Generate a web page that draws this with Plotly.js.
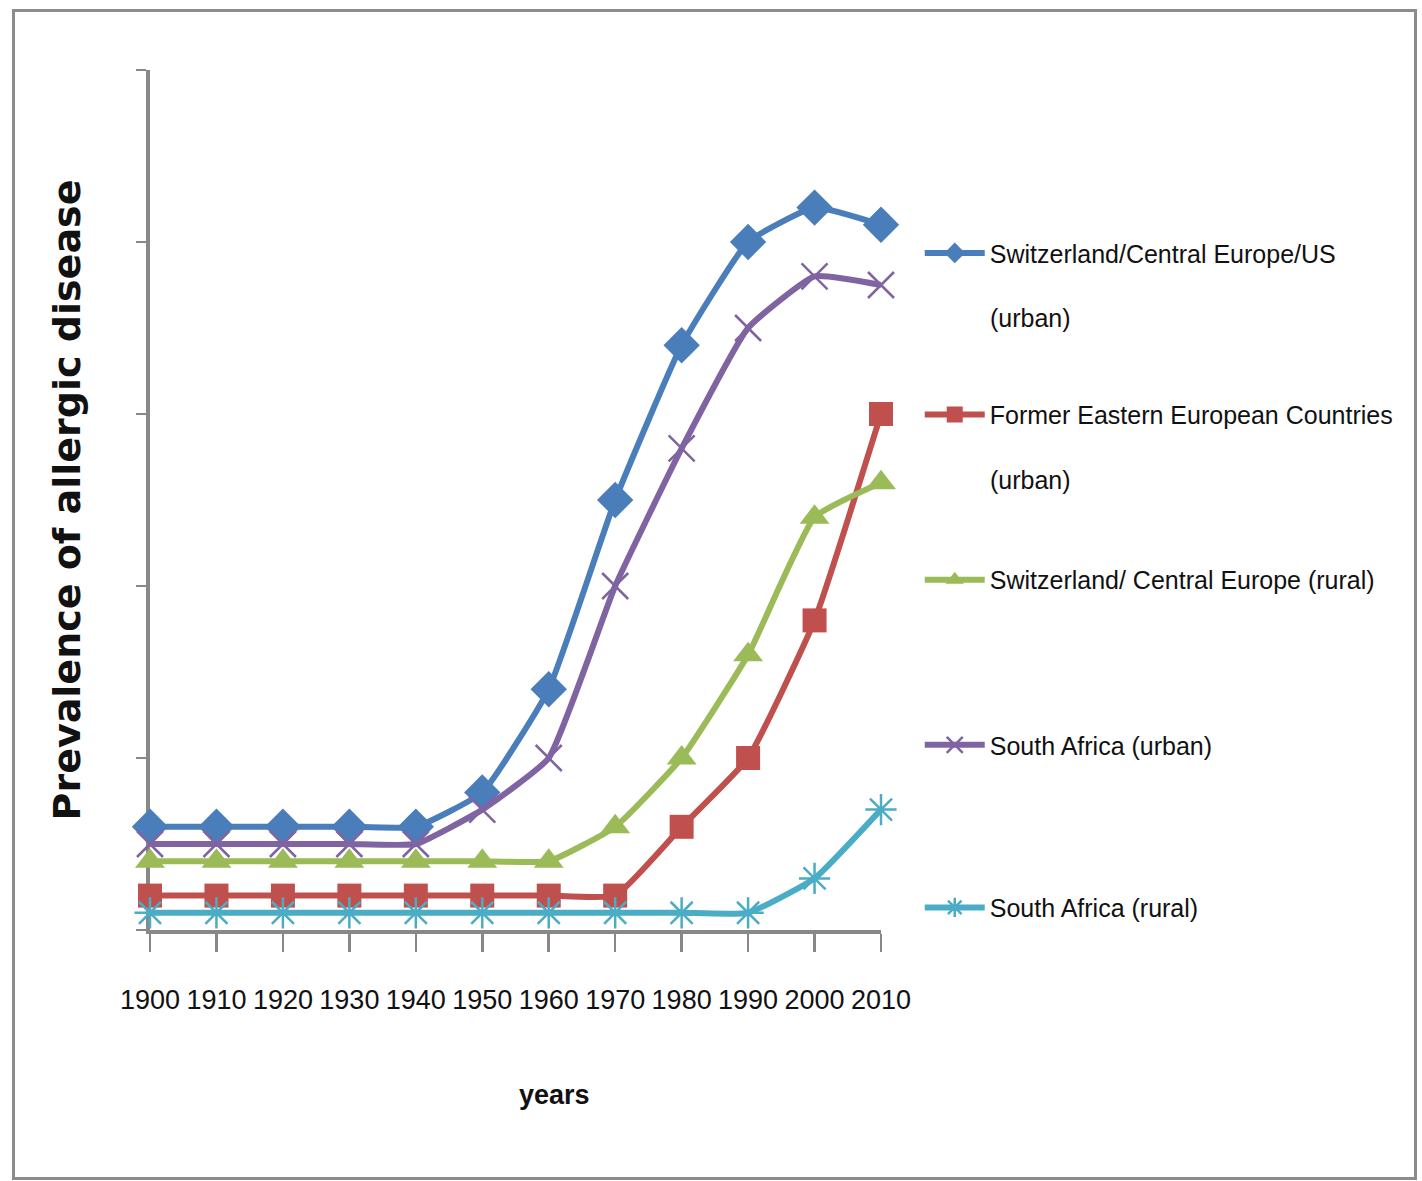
<!DOCTYPE html>
<html><head><meta charset="utf-8">
<script src="https://cdn.plot.ly/plotly-3.0.1.min.js"></script>
<style>
html,body{margin:0;padding:0;background:#fff;}
#chart{width:1422px;height:1181px;position:absolute;left:0;top:0;}
#frame{position:absolute;left:12px;top:9px;width:1399px;height:1165px;border:3px solid #8c8c8c;pointer-events:none;}
</style></head><body>
<div id="chart"></div><div id="frame"></div>
<script>
const years = [1900,1910,1920,1930,1940,1950,1960,1970,1980,1990,2000,2010];
const tickLabels = ["1900","1910","1920","1930","1940","1950","1960","1970","1980","1990","2000","2010"];
const swissUrban   = [6,6,6,6,6,8,14,25,34,40,42,41];
const easternUrban = [2,2,2,2,2,2,2,2,6,10,18,30];
const swissRural   = [4,4,4,4,4,4,4,6,10,16,24,26];
const saUrban      = [5,5,5,5,5,7,10,20,28,35,38,37.5];
const saRural      = [1,1,1,1,1,1,1,1,1,1,3,7];
const seriesNames = [
  "Switzerland/Central Europe/US",
  "Former Eastern European Countries",
  "Switzerland/ Central Europe (rural)",
  "South Africa (urban)",
  "South Africa (rural)"
];
const secondLines = ["(urban)", "(urban)"];
const axisTitleY = "Prevalence of allergic disease";
const axisTitleX = "years";

const SANS = "'Liberation Sans', Arial, sans-serif";
const colors = ["#4a7ebb", "#c0504d", "#9bbb59", "#8064a2", "#4bacc6"];
const markers = [
  {symbol:"diamond", size:28, color:colors[0]},
  {symbol:"square", size:24, color:colors[1]},
  {symbol:"triangle-up", size:26, color:colors[2]},
  {symbol:"x-thin-open", size:26, color:colors[3], line:{color:colors[3], width:2.5}},
  {symbol:"asterisk-open", size:26, color:colors[4], line:{color:colors[4], width:2.5}}
];
const values = [swissUrban, easternUrban, swissRural, saUrban, saRural];
const legendIds = ["legend","legend2","legend3","legend4","legend5"];
const legendY = [0.787, 0.599, 0.407, 0.215, 0.026];

const traces = values.map((v,i) => ({
  type:"scatter", mode:"lines+markers", x:years, y:v, name:seriesNames[i],
  line:{color:colors[i], width:6, shape:"spline", smoothing:0.4},
  marker:markers[i], cliponaxis:false, legend:legendIds[i]
}));

const layout = {
  width:1422, height:1181,
  margin:{l:150, r:541, t:70, b:251, autoexpand:false},
  paper_bgcolor:"#fff", plot_bgcolor:"#fff",
  showlegend:true,
  xaxis:{
    range:[1900,2010], tickmode:"array", tickvals:years, ticktext:tickLabels,
    tickangle:0,
    showgrid:false, zeroline:false, showline:true, linecolor:"#888", linewidth:4,
    ticks:"outside", ticklen:18, tickwidth:2.5, tickcolor:"#888",
    ticklabelstandoff:25, layer:"below traces",
    tickfont:{family:SANS, size:27, color:"#111"}
  },
  yaxis:{
    range:[0,50], tick0:0, dtick:10, showticklabels:false,
    showgrid:false, zeroline:false, showline:true, linecolor:"#888", linewidth:4,
    ticks:"outside", ticklen:10, tickwidth:2.5, tickcolor:"#888", layer:"below traces",
    title:{text:axisTitleY, standoff:45, font:{family:"'DejaVu Sans', Verdana, sans-serif", size:38, weight:"bold", color:"#111"}}
  },
  annotations:[
    {xref:"paper", yref:"paper", x:0.554, y:-0.192, yanchor:"middle", text:axisTitleX, showarrow:false,
     font:{family:SANS, size:27, weight:"bold", color:"#111"}},
    {xref:"paper", yref:"paper", x:1.1464, y:0.7116, xanchor:"left", yanchor:"middle", text:secondLines[0], showarrow:false,
     font:{family:SANS, size:25, color:"#111"}},
    {xref:"paper", yref:"paper", x:1.1464, y:0.5233, xanchor:"left", yanchor:"middle", text:secondLines[1], showarrow:false,
     font:{family:SANS, size:25, color:"#111"}}
  ]
};
legendIds.forEach((id,i) => {
  layout[id] = {x:1.053, y:legendY[i], xanchor:"left", yanchor:"middle",
    bgcolor:"rgba(0,0,0,0)", borderwidth:0, itemwidth:60,
    font:{family:SANS, size:25, color:"#111"}};
});

Plotly.newPlot("chart", traces, layout, {displayModeBar:false, staticPlot:true});
</script>
</body></html>
